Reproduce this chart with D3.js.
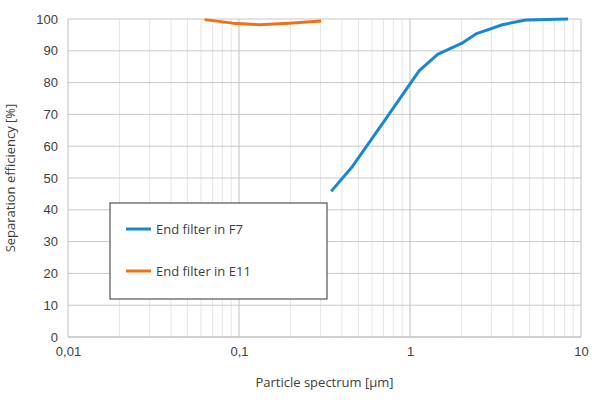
<!DOCTYPE html>
<html><head><meta charset="utf-8">
<script src="https://cdn.jsdelivr.net/npm/d3@7"></script>
<style>body{margin:0;background:#fff}svg{font-family:"Open Sans","Liberation Sans",sans-serif}</style>
</head><body><svg id="c" width="600" height="400"></svg>
<script>
const f7X=[0.346,0.462,0.72,1.13,1.45,2.0,2.43,3.47,4.75,8.4];
const f7Y=[45.8,53.7,68.5,83.7,88.9,92.3,95.3,98.2,99.7,100];
const e11X=[0.063,0.092,0.132,0.197,0.302];
const e11Y=[99.8,98.7,98.2,98.7,99.4];
const xTicks=[0.01,0.1,1,10];
const xTickLabels=["0,01","0,1","1","10"];
const yTicks=[0,10,20,30,40,50,60,70,80,90,100];
const seriesNames=["End filter in F7","End filter in E11"];
const colors=["#1a87d1","#ee7117"];

const svg=d3.select("#c");
const L=68,R=581,T=19,B=337;
const x=d3.scaleLog().domain([0.01,10]).range([L,R]);
const y=d3.scaleLinear().domain([0,100]).range([B,T]);
const minor=[];
[0.01,0.1,1].forEach(d=>{for(let k=2;k<=9;k++)minor.push(d*k);});
svg.append("g").selectAll("line").data(minor).join("line")
 .attr("x1",d=>x(d)).attr("x2",d=>x(d)).attr("y1",T).attr("y2",B)
 .attr("stroke","#e6e6e6").attr("stroke-width",1);
svg.append("g").selectAll("line").data(yTicks).join("line")
 .attr("x1",L).attr("x2",R).attr("y1",d=>y(d)).attr("y2",d=>y(d))
 .attr("stroke","#c8c8c8");
svg.append("g").selectAll("line").data(xTicks).join("line")
 .attr("x1",d=>x(d)).attr("x2",d=>x(d)).attr("y1",T).attr("y2",B)
 .attr("stroke","#c0c0c0");
svg.append("line").attr("x1",L).attr("x2",R).attr("y1",B).attr("y2",B).attr("stroke","#bfbfbf");

const ya=svg.append("g").attr("transform",`translate(${L},0)`)
 .call(d3.axisLeft(y).tickValues(yTicks).tickSize(0).tickPadding(10));
ya.select(".domain").remove();
ya.selectAll("text").attr("font-size",13).attr("fill","#404040").attr("font-family","inherit");
const xa=svg.append("g").attr("transform",`translate(0,${B})`)
 .call(d3.axisBottom(x).tickValues(xTicks).tickFormat((d,i)=>xTickLabels[i]).tickSize(0).tickPadding(10));
xa.select(".domain").remove();
xa.selectAll("text").attr("font-size",13).attr("fill","#404040").attr("font-family","inherit");

svg.append("text").attr("x",(L+R)/2).attr("y",387).attr("text-anchor","middle")
 .attr("font-size",13).attr("fill","#404040").text("Particle spectrum [µm]");
svg.append("text").attr("transform",`translate(15,${(T+B)/2}) rotate(-90)`).attr("text-anchor","middle")
 .attr("font-size",13).attr("fill","#404040").text("Separation efficiency [%]");

const line=d3.line().x(d=>x(d[0])).y(d=>y(d[1]));
[[f7X,f7Y],[e11X,e11Y]].forEach(([xs,ys],i)=>{
 svg.append("path").datum(xs.map((v,j)=>[v,ys[j]])).attr("d",line)
  .attr("fill","none").attr("stroke",colors[i]).attr("stroke-width",3).attr("stroke-linejoin","round");
});

const lg=svg.append("g");
lg.append("rect").attr("x",110).attr("y",203).attr("width",217).attr("height",96)
 .attr("fill","#fff").attr("stroke","#333").attr("stroke-width",1);
seriesNames.forEach((n,i)=>{
 const yy=229+i*42;
 lg.append("line").attr("x1",126).attr("x2",151).attr("y1",yy).attr("y2",yy).attr("stroke",colors[i]).attr("stroke-width",3);
 lg.append("text").attr("x",156).attr("y",yy+5).attr("font-size",13).attr("fill","#404040").text(n);
});
</script></body></html>
